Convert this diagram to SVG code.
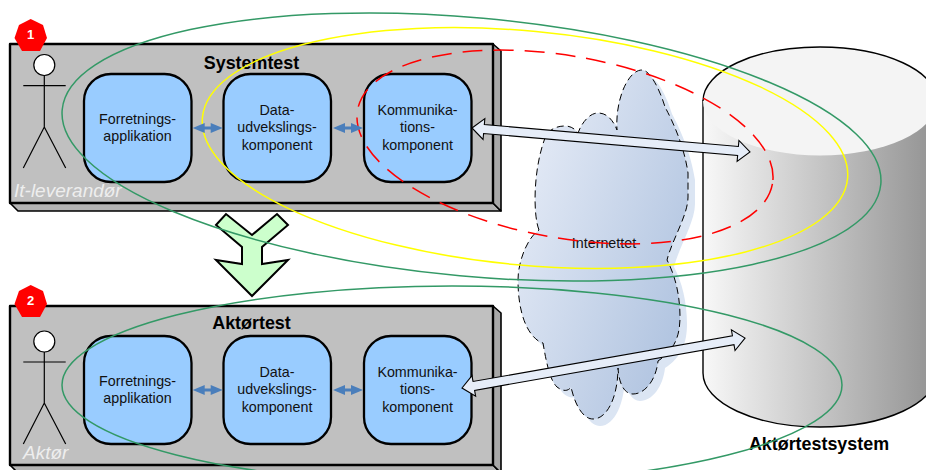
<svg xmlns="http://www.w3.org/2000/svg" xmlns:xlink="http://www.w3.org/1999/xlink" width="926" height="470" viewBox="0 0 926 470">
<style>
text{font-family:"Liberation Sans",Arial,sans-serif;fill:#111}
.lbl{font-size:14.3px;text-anchor:middle}
.title{font-size:17.9px;font-weight:bold;text-anchor:middle;fill:#000}
.role{font-size:19px;font-style:italic;fill:#eee}
.num{font-size:13px;font-weight:bold;text-anchor:middle;fill:#fff}
.node{fill:#99ccff;stroke:#000;stroke-width:2.3}
.front{fill:#c0c0c0;stroke:#000;stroke-width:2.4;stroke-linejoin:round}
.side{fill:#a8a8a8;stroke:#000;stroke-width:1.6;stroke-linejoin:round}
.bot{fill:#b4b4b4;stroke:#000;stroke-width:1.6;stroke-linejoin:round}
.actor{fill:none;stroke:#000;stroke-width:1.2}
.badge{fill:#ff0000}
.blue{fill:#4a7ebb;stroke:none}
.white{fill:#e6edf8;stroke:#000;stroke-width:1.1;stroke-linejoin:miter}
.ring{fill:none;stroke-width:1.5}
</style>
<defs>
<linearGradient id="cyl" x1="0" y1="0" x2="1" y2="0"><stop offset="0" stop-color="#f8f8f8"/><stop offset="1" stop-color="#929292"/></linearGradient>
<linearGradient id="cld" x1="0" y1="0.1" x2="1" y2="0.8"><stop offset="0" stop-color="#e9eef8"/><stop offset="1" stop-color="#aec2df"/></linearGradient>
<path id="cloudShape" d="M539,230C533,215 533,170 545,138C548,130 556,126 565,126C571,126 575,129 578,133C582,122 590,113 598,113C607,113 613,120 617,130C615,100 628,70 642,70C650,70 660,90 665,107C672,120 684,145 688,173L688,197C688,215 672,240 667,260C675,275 680,295 680,317C680,335 675,350 658,361C656,380 645,394 633,394C625,394 619,385 618,368C618,395 608,419 593,419C583,419 575,405 571,387C568,392 562,391 557,387C552,382 548,373 543,343L540,342C528,335 518,315 518,280C518,262 527,238 539,230Z"/>
<polygon id="dbl" points="0,0 12,-5 12,-1.6 18,-1.6 18,-5 30,0 18,5 18,1.6 12,1.6 12,5"/>
</defs>

<g id="cylinder">
<path d="M703,101V373C703,403 755,427 820,427C885,427 937,403 937,373V101Z" fill="url(#cyl)" stroke="#000" stroke-width="1.4"/>
<ellipse cx="820" cy="101" rx="117" ry="54.5" fill="#f4f4f4"/>
<path d="M703,101C703,71 755,47 820,47C885,47 937,71 937,101" fill="none" stroke="#000" stroke-width="1.4"/>
<text class="title" x="819" y="450">Aktørtestsystem</text>
</g>

<g id="cloud">
<use xlink:href="#cloudShape" href="#cloudShape" transform="translate(7,7)" fill="#dbe5f3"/>
<use xlink:href="#cloudShape" href="#cloudShape" fill="url(#cld)" stroke="#000" stroke-width="1" stroke-dasharray="7 4"/>
<text class="lbl" x="604" y="248">Internettet</text>
</g>

<g id="box-systemtest">
<polygon class="bot" points="10,203 493,203 501,211 18,211"/>
<polygon class="side" points="493,44 501,51 501,211 493,203"/>
<rect class="front" x="10" y="44" width="483" height="159"/>
<text class="title" x="251.5" y="68.5">Systemtest</text>
<text class="role" x="14" y="197">It-leverandør</text>
</g>
<g id="box-aktortest">
<polygon class="bot" points="10,465 493,465 501,473 18,473"/>
<polygon class="side" points="493,306 501,313 501,473 493,465"/>
<rect class="front" x="10" y="306" width="483" height="159"/>
<text class="title" x="251.5" y="329">Aktørtest</text>
<text class="role" x="23" y="459">Aktør</text>
</g>

<g id="actor-1"><circle cx="44.3" cy="65" r="10.5" fill="#fff" stroke="#000" stroke-width="1.2"/><path class="actor" d="M44.3,75.5V127M23.3,85.7H65.7M23.3,168L44.3,127L65.7,168"/></g>
<g id="actor-2"><circle cx="44.3" cy="341.5" r="10.5" fill="#fff" stroke="#000" stroke-width="1.2"/><path class="actor" d="M44.3,352V403M23.3,362H65.7M23.3,444L44.3,403L65.7,444"/></g>

<g id="badge-1"><polygon class="badge" points="30.7,19 43,25 47,38 40,51 22,51 14.5,38 19,25"/><text class="num" x="30.5" y="39">1</text></g>
<g id="badge-2"><polygon class="badge" points="30.7,285 43,291 47,304 40,317 22,317 14.5,304 19,291"/><text class="num" x="30.5" y="305">2</text></g>

<g id="node-forretning-1"><rect class="node" x="84" y="74" width="107.5" height="108" rx="27"/><text class="lbl" x="137.5" y="124">Forretnings-</text><text class="lbl" x="137.5" y="141">applikation</text></g>
<g id="node-data-1"><rect class="node" x="223.5" y="74" width="107.5" height="108" rx="27"/><text class="lbl" x="277" y="115">Data-</text><text class="lbl" x="277" y="132">udvekslings-</text><text class="lbl" x="277" y="149.5">komponent</text></g>
<g id="node-komm-1"><rect class="node" x="364" y="74" width="107.5" height="108" rx="27"/><text class="lbl" x="417.5" y="115">Kommunika-</text><text class="lbl" x="417.5" y="132">tions-</text><text class="lbl" x="417.5" y="149.5">komponent</text></g>
<g id="node-forretning-2"><rect class="node" x="84" y="336" width="107.5" height="108" rx="27"/><text class="lbl" x="137.5" y="386">Forretnings-</text><text class="lbl" x="137.5" y="403">applikation</text></g>
<g id="node-data-2"><rect class="node" x="223.5" y="336" width="107.5" height="108" rx="27"/><text class="lbl" x="277" y="377">Data-</text><text class="lbl" x="277" y="394">udvekslings-</text><text class="lbl" x="277" y="411.5">komponent</text></g>
<g id="node-komm-2"><rect class="node" x="364" y="336" width="107.5" height="108" rx="27"/><text class="lbl" x="417.5" y="377">Kommunika-</text><text class="lbl" x="417.5" y="394">tions-</text><text class="lbl" x="417.5" y="411.5">komponent</text></g>

<g id="transition-arrow"><polygon points="216,225 226,214 252,235 277,214 288,225 262,247 262,264 288,260 252,296 216,260 242,264 242,247" fill="#ccffcc" stroke="#000" stroke-width="2" stroke-linejoin="miter"/></g>

<g id="scopes">
<ellipse class="ring" cx="471.5" cy="147" rx="411" ry="129.3" transform="rotate(5.2 471.5 147)" stroke="#339966"/>
<ellipse class="ring" cx="525" cy="148" rx="324" ry="117" transform="rotate(5.4 525 148)" stroke="#ffff00"/>
<ellipse class="ring" cx="565" cy="147" rx="210.7" ry="91" transform="rotate(10.1 565 147)" stroke="#ff0000" stroke-dasharray="20 11"/>
<ellipse class="ring" cx="452" cy="385" rx="390" ry="99" stroke="#339966"/>
</g>

<g id="connectors">
<use xlink:href="#dbl" href="#dbl" class="blue" x="192.7" y="128"/>
<use xlink:href="#dbl" href="#dbl" class="blue" x="333" y="128"/>
<use xlink:href="#dbl" href="#dbl" class="blue" x="192.7" y="390"/>
<use xlink:href="#dbl" href="#dbl" class="blue" x="333" y="390"/>
<polygon class="white" transform="translate(472,128) rotate(4.93)" points="0,0 12,-10.5 12,-4.5 267,-4.5 267,-10.5 279,0 267,10.5 267,4.5 12,4.5 12,10.5"/>
<polygon class="white" transform="translate(462,388) rotate(-10)" points="0,0 12,-10.5 12,-4.5 275.4,-4.5 275.4,-10.5 287.4,0 275.4,10.5 275.4,4.5 12,4.5 12,10.5"/>
</g>
</svg>
